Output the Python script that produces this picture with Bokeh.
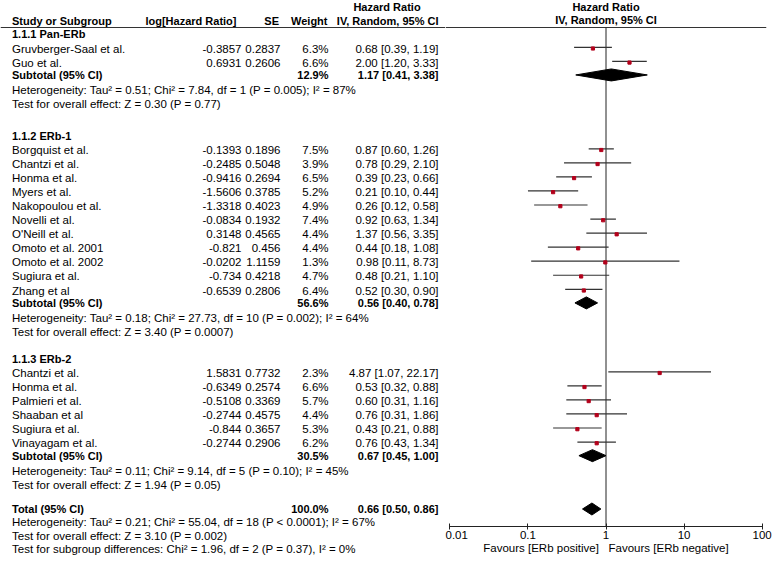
from bokeh.plotting import figure
from bokeh.layouts import row
from bokeh.models import Range1d, FixedTicker
from bokeh.core.properties import value
from bokeh.embed import file_html
from bokeh.resources import INLINE

# ---------------- data ----------------
group_titles = ["1.1.1 Pan-ERb", "1.1.2 ERb-1", "1.1.3 ERb-2"]

g1_studies = ["Gruvberger-Saal et al.", "Guo et al."]
g1_loghr = [-0.3857, 0.6931]
g1_se = [0.2837, 0.2606]
g1_weight = [6.3, 6.6]
g1_hr = [0.68, 2.00]
g1_lo = [0.39, 1.20]
g1_hi = [1.19, 3.33]

g2_studies = ["Borgquist et al.", "Chantzi et al.", "Honma et al.", "Myers et al.",
              "Nakopoulou et al.", "Novelli et al.", "O'Neill et al.", "Omoto et al. 2001",
              "Omoto et al. 2002", "Sugiura et al.", "Zhang et al"]
g2_loghr = [-0.1393, -0.2485, -0.9416, -1.5606, -1.3318, -0.0834, 0.3148, -0.821,
            -0.0202, -0.734, -0.6539]
g2_se = [0.1896, 0.5048, 0.2694, 0.3785, 0.4023, 0.1932, 0.4565, 0.456,
         1.1159, 0.4218, 0.2806]
g2_weight = [7.5, 3.9, 6.5, 5.2, 4.9, 7.4, 4.4, 4.4, 1.3, 4.7, 6.4]
g2_hr = [0.87, 0.78, 0.39, 0.21, 0.26, 0.92, 1.37, 0.44, 0.98, 0.48, 0.52]
g2_lo = [0.60, 0.29, 0.23, 0.10, 0.12, 0.63, 0.56, 0.18, 0.11, 0.21, 0.30]
g2_hi = [1.26, 2.10, 0.66, 0.44, 0.58, 1.34, 3.35, 1.08, 8.73, 1.10, 0.90]

g3_studies = ["Chantzi et al.", "Honma et al.", "Palmieri et al.", "Shaaban et al",
              "Sugiura et al.", "Vinayagam et al."]
g3_loghr = [1.5831, -0.6349, -0.5108, -0.2744, -0.844, -0.2744]
g3_se = [0.7732, 0.2574, 0.3369, 0.4575, 0.3657, 0.2906]
g3_weight = [2.3, 6.6, 5.7, 4.4, 5.3, 6.2]
g3_hr = [4.87, 0.53, 0.60, 0.76, 0.43, 0.76]
g3_lo = [1.07, 0.32, 0.31, 0.31, 0.21, 0.43]
g3_hi = [22.17, 0.88, 1.16, 1.86, 0.88, 1.34]

subtotal_weight = [12.9, 56.6, 30.5]
subtotal_hr = [1.17, 0.56, 0.67]
subtotal_lo = [0.41, 0.40, 0.45]
subtotal_hi = [3.38, 0.78, 1.00]

heterogeneity_texts = [
    "Heterogeneity: Tau\u00b2 = 0.51; Chi\u00b2 = 7.84, df = 1 (P = 0.005); I\u00b2 = 87%",
    "Heterogeneity: Tau\u00b2 = 0.18; Chi\u00b2 = 27.73, df = 10 (P = 0.002); I\u00b2 = 64%",
    "Heterogeneity: Tau\u00b2 = 0.11; Chi\u00b2 = 9.14, df = 5 (P = 0.10); I\u00b2 = 45%",
]
overall_texts = [
    "Test for overall effect: Z = 0.30 (P = 0.77)",
    "Test for overall effect: Z = 3.40 (P = 0.0007)",
    "Test for overall effect: Z = 1.94 (P = 0.05)",
]

total_weight = 100.0
total_hr = 0.66
total_lo = 0.50
total_hi = 0.86
total_texts = [
    "Heterogeneity: Tau\u00b2 = 0.21; Chi\u00b2 = 55.04, df = 18 (P < 0.0001); I\u00b2 = 67%",
    "Test for overall effect: Z = 3.10 (P = 0.002)",
    "Test for subgroup differences: Chi\u00b2 = 1.96, df = 2 (P = 0.37), I\u00b2 = 0%",
]

axis_ticks = [0.01, 0.1, 1, 10, 100]
axis_tick_labels = ["0.01", "0.1", "1", "10", "100"]
favours_left = "Favours [ERb positive]"
favours_right = "Favours [ERb negative]"

groups = [
    (g1_studies, g1_loghr, g1_se, g1_weight, g1_hr, g1_lo, g1_hi),
    (g2_studies, g2_loghr, g2_se, g2_weight, g2_hr, g2_lo, g2_hi),
    (g3_studies, g3_loghr, g3_se, g3_weight, g3_hr, g3_lo, g3_hi),
]

# ---------------- layout (reference pixel coordinates) ----------------
W, H = 773, 563
X0, SX = 0.0, 1.0
Y0 = 0.0
AX_REF = 526.0               # reference y of the forest axis
SPLIT = 445.0                # reference x where the forest panel begins

left_w = round((SPLIT - X0) * SX)
right_w = W - left_w
split_eff = X0 + left_w / SX
frame_h = round((AX_REF - Y0) * (H / (H - Y0)))
BB = H - frame_h
SY = frame_h / (AX_REF - Y0)

FONT_NAME = "Liberation Sans"
FONT = value(FONT_NAME)
FS = "11.5px"
FSB = "11px"
TXT = "#000000"
RED = "#b3001b"
LINE = "#333333"

header_ys = [33.5, 135.0, 358.0]
STEP = 14.05

x_name = 11.5
x_log = 241.0
x_se = 280.0
x_w = 328.0
x_ci = 438.0

fmt_ci = lambda h, l, u: "%.2f [%.2f, %.2f]" % (h, l, u)

normal_left = dict(x=[], y=[], t=[])
bold_left = dict(x=[], y=[], t=[])
normal_right = dict(x=[], y=[], t=[])
bold_right = dict(x=[], y=[], t=[])

def add(d, x, y, t):
    d["x"].append(x); d["y"].append(y); d["t"].append(t)

# header row
add(bold_left, x_name, 20.0, "Study or Subgroup")
add(bold_right, 236.0, 20.0, "log[Hazard Ratio]")
add(bold_right, 278.5, 20.0, "SE")
add(bold_right, 327.0, 20.0, "Weight")
add(bold_right, x_ci, 20.0, "IV, Random, 95% CI")

study_y, study_hr, study_lo, study_hi = [], [], [], []
diam_y, diam_hr, diam_lo, diam_hi = [], [], [], []

for gi, (names, lhr, se, wt, hr, lo, hi) in enumerate(groups):
    hy = header_ys[gi]
    add(bold_left, x_name, hy, group_titles[gi])
    y = hy + 14.5
    last = y
    for i in range(len(names)):
        yy = y + i * STEP
        last = yy
        add(normal_left, x_name, yy, names[i])
        add(normal_right, x_log, yy, str(lhr[i]))
        add(normal_right, x_se, yy, str(se[i]))
        add(normal_right, x_w, yy, "%.1f%%" % wt[i])
        add(normal_right, x_ci, yy, fmt_ci(hr[i], lo[i], hi[i]))
        study_y.append(yy); study_hr.append(hr[i]); study_lo.append(lo[i]); study_hi.append(hi[i])
    sub_y = last + 12.4
    add(bold_left, x_name, sub_y, "Subtotal (95% CI)")
    add(bold_right, x_w, sub_y, "%.1f%%" % subtotal_weight[gi])
    add(bold_right, x_ci, sub_y, fmt_ci(subtotal_hr[gi], subtotal_lo[gi], subtotal_hi[gi]))
    diam_y.append(sub_y); diam_hr.append(subtotal_hr[gi]); diam_lo.append(subtotal_lo[gi]); diam_hi.append(subtotal_hi[gi])
    add(normal_left, x_name, sub_y + 15.5, heterogeneity_texts[gi])
    add(normal_left, x_name, sub_y + 29.5, overall_texts[gi])

tot_y = 508.5
add(bold_left, x_name, tot_y, "Total (95% CI)")
add(bold_right, x_w, tot_y, "%.1f%%" % total_weight)
add(bold_right, x_ci, tot_y, fmt_ci(total_hr, total_lo, total_hi))
diam_y.append(tot_y); diam_hr.append(total_hr); diam_lo.append(total_lo); diam_hi.append(total_hi)
for k, t in enumerate(total_texts):
    add(normal_left, x_name, tot_y + 13.3 * (k + 1), t)

# ---------------- left figure: table (full-height frame) ----------------
left = figure(width=left_w, height=H, x_range=Range1d(X0, split_eff),
              y_range=Range1d(Y0 + H / SY, Y0),
              output_backend="svg", toolbar_location=None,
              x_axis_location=None, y_axis_location=None,
              min_border_left=0, min_border_right=0, min_border_top=0, min_border_bottom=0)
left.frame_align = False
left.outline_line_color = None
left.grid.visible = False
left.background_fill_color = "white"
left.border_fill_color = "white"

for d, align, style, fs in [(normal_left, "left", "normal", FS), (bold_left, "left", "bold", FSB),
                            (normal_right, "right", "normal", FS), (bold_right, "right", "bold", FSB)]:
    left.text(x=d["x"], y=d["y"], text=d["t"], text_align=align, text_baseline="middle",
              text_font=FONT, text_font_size=fs, text_font_style=style, text_color=TXT)
left.text(x=[386.5], y=[6.0], text=["Hazard Ratio"], text_align="center", text_baseline="middle",
          text_font=FONT, text_font_size=FSB, text_font_style="bold", text_color=TXT)
left.segment(x0=[X0], y0=[27.0], x1=[split_eff], y1=[27.0], line_color=LINE, line_width=1)

# ---------------- right figure: forest ----------------
dec = (761.7 - 449.3) / 4.0          # reference px per decade
x_one = 605.6                        # reference x of HR = 1
half_px = (x_one - split_eff) * SX
frame_w = round(2 * half_px)
rb = right_w - frame_w
lg = half_px / (dec * SX)

right = figure(width=right_w, height=H, x_axis_type="log",
               x_range=Range1d(10 ** (-lg), 10 ** lg), y_range=Range1d(AX_REF, Y0),
               output_backend="svg", toolbar_location=None, y_axis_location=None,
               min_border_left=0, min_border_right=rb, min_border_top=0, min_border_bottom=BB)
right.frame_align = False
right.outline_line_color = None
right.grid.visible = False
right.background_fill_color = "white"
right.border_fill_color = "white"

ax = right.xaxis[0]
ax.ticker = FixedTicker(ticks=axis_ticks)
ax.major_label_overrides = {t: l for t, l in zip(axis_ticks, axis_tick_labels)}
ax.bounds = (axis_ticks[0], axis_ticks[-1])
ax.minor_tick_line_color = None
ax.major_tick_in = 3
ax.major_tick_out = 3
ax.major_label_standoff = 1
ax.axis_line_color = "#222222"
ax.major_tick_line_color = "#222222"
ax.major_label_text_font = FONT_NAME
ax.major_label_text_font_size = FS
ax.major_label_text_color = TXT
ax.axis_label = favours_left + "\u00a0\u00a0\u00a0" + favours_right
ax.axis_label_text_font = FONT_NAME
ax.axis_label_text_font_size = FS
ax.axis_label_text_font_style = "normal"
ax.axis_label_text_color = TXT
ax.axis_label_standoff = 0

right.segment(x0=[10 ** (-lg)], y0=[27.0], x1=[10 ** lg], y1=[27.0], line_color=LINE, line_width=1)
right.segment(x0=[1], y0=[27.0], x1=[1], y1=[AX_REF], line_color="#222222", line_width=1)
right.text(x=[1, 1], y=[6.0, 19.5], text=["Hazard Ratio", "IV, Random, 95% CI"],
           text_align="center", text_baseline="middle", text_font=FONT, text_font_size=FSB,
           text_font_style="bold", text_color=TXT)

right.segment(x0=study_lo, y0=[v - 1.2 for v in study_y], x1=study_hi, y1=[v - 1.2 for v in study_y],
              line_color=LINE, line_width=1.2)
right.scatter(x=study_hr, y=study_y, marker="square", size=3.2, fill_color=RED, line_color=RED)

DH = 6.0
right.patches(xs=[[l, h, u, h] for l, h, u in zip(diam_lo, diam_hr, diam_hi)],
              ys=[[y, y - DH, y, y + DH] for y in diam_y],
              fill_color="black", line_color="black")

layout = row(left, right)
open("out.html", "w").write(file_html(layout, INLINE))
